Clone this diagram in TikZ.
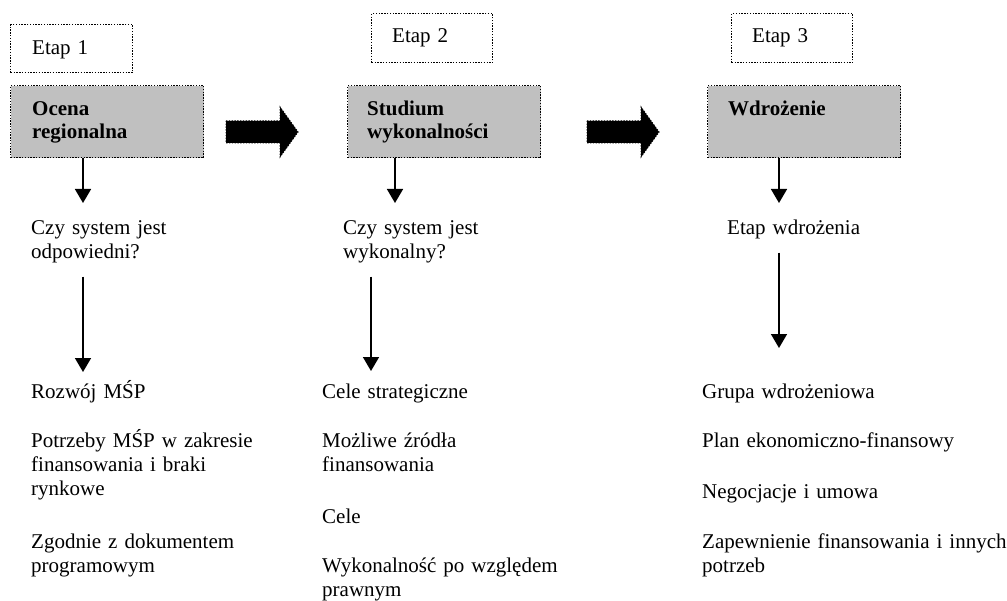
\documentclass[tikz,border=0pt]{standalone}
\usepackage{fontspec}
\setmainfont{Liberation Serif}
\usetikzlibrary{arrows.meta,calc}
\definecolor{boxgray}{HTML}{C0C0C0}
\begin{document}
\begin{tikzpicture}[x=1bp,y=-1bp,
  txt/.style={anchor=base west, inner sep=0pt, align=left, text width=340bp,
              font=\fontsize{21bp}{24bp}\selectfont},
  boldtxt/.style={txt, font=\fontsize{21bp}{23bp}\selectfont\bfseries},
  dotline/.style={draw=black, line width=1.4bp, dash pattern=on 1.4bp off 1.4bp},
  etapbox/.style={dotline, fill=white, anchor=north west, inner sep=0pt},
  stagebox/.style={dotline, fill=boxgray, anchor=north west, inner sep=0pt,
                   minimum width=193bp, minimum height=72bp},
  down/.style={-{Triangle[width=16bp,length=14bp]}, line width=1.6bp},
  bigarrow/.style={fill=black, draw=black, line width=1bp, dash pattern=on 1.4bp off 1.4bp}]

\useasboundingbox (0,0) rectangle (1007,601);

% stage labels
\node[etapbox, minimum width=122bp, minimum height=48bp] (e1) at (10,24) {};
\node[txt] (e1t) at (32,55) {Etap 1};
\node[etapbox, minimum width=121bp, minimum height=49bp] (e2) at (371,13) {};
\node[txt] (e2t) at (392,43) {Etap 2};
\node[etapbox, minimum width=121bp, minimum height=49bp] (e3) at (731,13) {};
\node[txt] (e3t) at (752,43) {Etap 3};

% stage boxes
\node[stagebox] (b1) at (10,85) {};
\node[boldtxt] (b1t) at (32,116) {Ocena\\regionalna};
\node[stagebox] (b2) at (347,85) {};
\node[boldtxt] (b2t) at (367,116) {Studium\\wykonalności};
\node[stagebox] (b3) at (707,85) {};
\node[boldtxt] (b3t) at (728,116) {Wdrożenie};

% block arrows between the stages
\coordinate (g1) at (226,121);
\coordinate (g2) at (587,121);
\foreach \g in {g1,g2}
  \filldraw[bigarrow] (\g) -- ++(54,0) -- ++(0,-14) -- ++(18,25) -- ++(-18,25)
                      -- ++(0,-14) -- ++(-54,0) -- cycle;

% questions
\node[txt] (q1) at (31,235) {Czy system jest\\odpowiedni?};
\node[txt] (q2) at (343,235) {Czy system jest\\wykonalny?};
\node[txt] (q3) at (727,235) {Etap wdrożenia};

% column 1 items
\node[txt] (r1) at (31,398) {Rozwój MŚP};
\node[txt] (r2) at (31,447) {Potrzeby MŚP w zakresie\\finansowania i braki\\rynkowe};
\node[txt] (r3) at (31,548) {Zgodnie z dokumentem\\programowym};

% column 2 items
\node[txt] (s1) at (322,398) {Cele strategiczne};
\node[txt] (s2) at (322,447) {Możliwe źródła\\finansowania};
\node[txt] (s3) at (322,523) {Cele};
\node[txt] (s4) at (322,572) {Wykonalność po względem\\prawnym};

% column 3 items
\node[txt] (t1) at (702,398) {Grupa wdrożeniowa};
\node[txt] (t2) at (702,447) {Plan ekonomiczno-finansowy};
\node[txt] (t3) at (702,498) {Negocjacje i umowa};
\node[txt] (t4) at (702,548) {Zapewnienie finansowania i innych\\potrzeb};

% arrow ends
\coordinate (d1) at (83,203);
\coordinate (d2) at (83,372);
\coordinate (d3) at (395,203);
\coordinate (d4) at (371,371);
\coordinate (d5) at (779,203);
\coordinate (d6) at (779,348);

\draw[down] (b1.south -| d1) -- (d1);
\draw[down] ($(q1.south -| d2)+(0,13)$) -- (d2);
\draw[down] (b2.south -| d3) -- (d3);
\draw[down] ($(q2.south -| d4)+(0,13)$) -- (d4);
\draw[down] (b3.south -| d5) -- (d5);
\draw[down] ($(q3.south -| d6)+(0,13)$) -- (d6);
\end{tikzpicture}
\end{document}
